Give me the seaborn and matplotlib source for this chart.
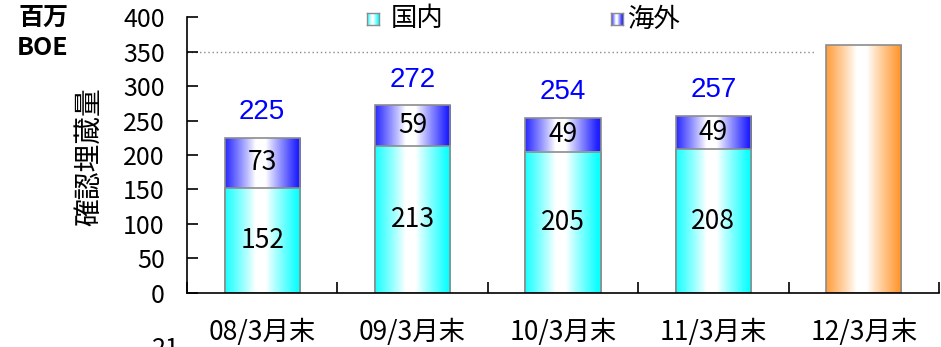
import numpy as np
import pandas as pd
import matplotlib
matplotlib.use("Agg")
import matplotlib.pyplot as plt
import seaborn as sns

# Proved reserves by fiscal year-end (million BOE)
categories = ["08/3月末", "09/3月末", "10/3月末", "11/3月末", "12/3月末"]
domestic = [152, 213, 205, 208]
overseas = [73, 59, 49, 49]
forecast = [360]
reference_level = 350
series_names = ["国内", "海外"]

totals = [d + o for d, o in zip(domestic, overseas)]

sns.set_theme(style="white")
plt.rcParams["font.family"] = ["Noto Sans CJK JP", "DejaVu Sans"]

CYAN = np.array([0.05, 1.0, 1.0])
BLUE = np.array([0.12, 0.12, 1.0])
ORANGE = np.array([1.0, 0.6, 0.2])
EDGE = "#8c8c8c"


def gradient(rgb, n=256):
    """Horizontal shading: saturated at the edges, white in the middle."""
    x = np.linspace(0, 1, n)
    w = np.clip((np.abs(x - 0.47) - 0.07) / 0.42, 0, 1) ** 0.9
    img = (1 - w)[:, None] * np.ones(3) + w[:, None] * rgb
    return img[None, :, :]


def shade(ax, patch, rgb, z):
    x0, y0 = patch.get_x(), patch.get_y()
    w, h = patch.get_width(), patch.get_height()
    ax.imshow(gradient(rgb), extent=[x0, x0 + w, y0, y0 + h], aspect="auto",
              interpolation="bilinear", zorder=z)
    patch.set_facecolor("none")
    patch.set_edgecolor(EDGE)
    patch.set_linewidth(1.2)
    patch.set_zorder(z + 0.5)


fig = plt.figure(figsize=(9.41, 3.47), dpi=100)
ax = fig.add_axes([187 / 941, 1 - 292.7 / 347, (939 - 187) / 941, (292.7 - 17.3) / 347])

df_total = pd.DataFrame({"period": categories[:4], "value": totals})
df_dom = pd.DataFrame({"period": categories[:4], "value": domestic})
df_fc = pd.DataFrame({"period": categories[4:], "value": forecast})

for df, rgb, z in [(df_total, BLUE, 1), (df_dom, CYAN, 2), (df_fc, ORANGE, 1)]:
    n0 = len(ax.patches)
    sns.barplot(data=df, x="period", y="value", order=categories, width=0.5,
                ax=ax, errorbar=None)
    for p in ax.patches[n0:]:
        if np.isfinite(p.get_height()) and p.get_height() > 0:
            shade(ax, p, rgb, z)

ax.set_xlim(-0.5, 4.5)
ax.set_ylim(0, 400)

# dotted 350 reference line
ax.plot([-0.5, 3.68], [reference_level, reference_level], color="#8a8a8a",
        lw=1.0, ls=(0, (1, 2)), zorder=0.5)

# value labels
for i, (d, o, t) in enumerate(zip(domestic, overseas, totals)):
    ax.text(i, d / 2, str(d), ha="center", va="center", fontsize=19,
            color="black", zorder=6)
    ax.text(i, d + o / 2, str(o), ha="center", va="center", fontsize=19,
            color="black", zorder=6)
    ax.text(i, t + 37, str(t), ha="center", va="center", fontsize=20,
            color="#0000ff", family=["Liberation Sans", "DejaVu Sans"], zorder=6)

# axes styling
for side in ["top", "right"]:
    ax.spines[side].set_visible(False)
for side in ["left", "bottom"]:
    ax.spines[side].set_color("black")
    ax.spines[side].set_linewidth(1.2)

ax.set_yticks(range(0, 401, 50))
ax.tick_params(axis="y", direction="in", length=8, width=1.2, pad=16,
               labelsize=18, colors="black", left=True)
ax.set_xticks(range(len(categories)))
ax.set_xticklabels(categories)
ax.set_xticks(np.arange(-0.5, len(categories), 1), minor=True)
ax.tick_params(axis="x", which="major", length=0, pad=19, labelsize=19,
               colors="black")
ax.tick_params(axis="x", which="minor", direction="in", length=8, width=1.2,
               bottom=True, colors="black")
ax.set_xlabel("")
ax.set_ylabel("")

fig.text(89 / 941, 1 - 157 / 347, "確認埋蔵量", rotation=90, ha="center",
         va="center", fontsize=20, color="black")
fig.text(43 / 941, 1 - 18 / 347, "百万", ha="center", va="center",
         fontsize=18, fontweight="bold", color="black")
fig.text(43 / 941, 1 - 48 / 347, "BOE", ha="center", va="center",
         fontsize=18, fontweight="bold", color="black")
fig.text(152 / 941, 1 - 336 / 347, "21", ha="left", va="top",
         fontsize=18, color="black")

# legend with shaded swatches
for (mx, tx), name, rgb in zip([(367, 391), (611, 628)], series_names, [CYAN, BLUE]):
    sw = fig.add_axes([mx / 941, 1 - 25 / 347, 12 / 941, 12 / 347])
    sw.imshow(gradient(rgb), aspect="auto", interpolation="bilinear")
    sw.set_xticks([])
    sw.set_yticks([])
    for s in sw.spines.values():
        s.set_color(EDGE)
        s.set_linewidth(1.0)
    fig.text(tx / 941, 1 - 19 / 347, name, ha="left", va="center",
             fontsize=19, color="black")

fig.savefig("out.png", dpi=100)
